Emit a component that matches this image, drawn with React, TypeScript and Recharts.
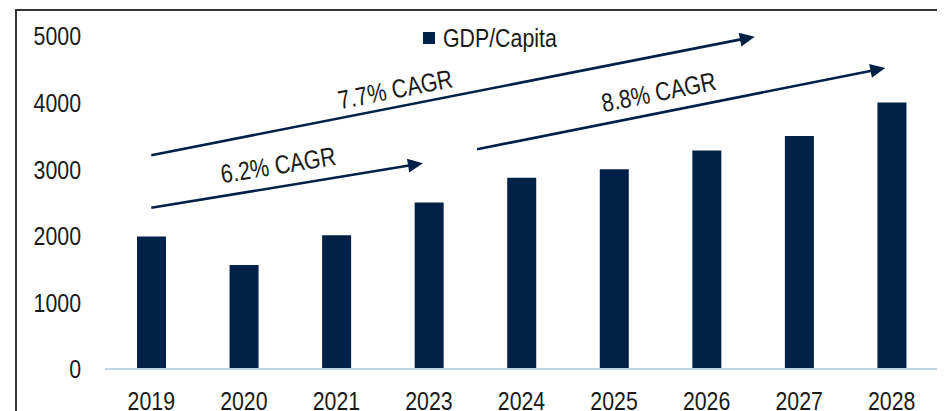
import React from 'react';
import { BarChart, Bar, XAxis, YAxis, Legend, ReferenceLine } from 'recharts';

const years = ['2019', '2020', '2021', '2023', '2024', '2025', '2026', '2027', '2028'];
const gdpPerCapita = [1990, 1560, 2010, 2500, 2870, 3000, 3280, 3500, 4000];
const yTicks = [0, 1000, 2000, 3000, 4000, 5000];

// CAGR arrows: [startIndex, startValue] -> [endIndex, endValue] on the category index scale
const arrowLabels = ['7.7% CAGR', '6.2% CAGR', '8.8% CAGR'];
const arrowStarts: [number, number][] = [[0, 3210], [0, 2420], [3.52, 3300]];
const arrowEnds: [number, number][] = [[6.52, 4990], [2.935, 3090], [7.93, 4520]];
const labelAt = [0.41, 0.48, 0.455];
const labelOffset = [18, 22, 21];

const data = years.map((y, i) => ({ year: y, value: gdpPerCapita[i], idx: i }));

const NAVY = '#002147';
const FONT = '"Liberation Sans", Arial, sans-serif';
const TEXT = '#1a1a1a';
const SX = 0.82;
const FS = 26;

const makeArrowShape = (label: string, t: number, off: number) => (props: any) => {
  const { x1, y1, x2, y2 } = props;
  const dx = x2 - x1;
  const dy = y2 - y1;
  const len = Math.sqrt(dx * dx + dy * dy);
  const ux = dx / len;
  const uy = dy / len;
  const headLen = 15;
  const headHalf = 7;
  const bx = x2 - ux * headLen;
  const by = y2 - uy * headLen;
  const nx = uy;
  const ny = -ux;
  const px = x1 + dx * t + nx * off;
  const py = y1 + dy * t + ny * off;
  const angle = (Math.atan2(dy, dx) * 180) / Math.PI;
  return (
    <g>
      <line x1={x1} y1={y1} x2={bx + ux} y2={by + uy} stroke={NAVY} strokeWidth={2.6} />
      <polygon
        points={`${x2},${y2} ${bx + nx * headHalf},${by + ny * headHalf} ${bx - nx * headHalf},${by - ny * headHalf}`}
        fill={NAVY}
      />
      <g transform={`translate(${px},${py}) rotate(${angle}) scale(${SX},1)`}>
        <text x={0} y={0} textAnchor="middle" dy="0.36em" fontFamily={FONT} fontSize={FS} fill={TEXT}>
          {label}
        </text>
      </g>
    </g>
  );
};

const YTick = (props: any) => {
  const { x, y, payload } = props;
  return (
    <g transform={`translate(${x},${y}) scale(${SX},1)`}>
      <text x={0} y={0} dy="0.36em" textAnchor="end" fontFamily={FONT} fontSize={FS} fill={TEXT}>
        {payload.value}
      </text>
    </g>
  );
};

const XTick = (props: any) => {
  const { x, y, payload } = props;
  return (
    <g transform={`translate(${x},${y}) scale(${SX},1)`}>
      <text x={0} y={0} dy="0.71em" textAnchor="middle" fontFamily={FONT} fontSize={FS} fill={TEXT}>
        {payload.value}
      </text>
    </g>
  );
};

const LegendContent = () => (
  <div style={{ display: 'flex', alignItems: 'center', fontFamily: FONT, fontSize: FS, lineHeight: '26px', color: TEXT, whiteSpace: 'nowrap' }}>
    <span style={{ display: 'inline-block', width: 12, height: 12, background: NAVY, marginRight: 8 }} />
    <span style={{ display: 'inline-block', transform: `scaleX(${SX})`, transformOrigin: 'left center' }}>GDP/Capita</span>
  </div>
);

export default function App() {
  return (
    <div style={{ position: 'relative', width: 937, height: 420 }}>
      <div
        style={{
          position: 'absolute',
          left: 7,
          top: 1,
          width: 940,
          height: 440,
          borderTop: '2px solid #333',
          borderLeft: '2px solid #333',
          boxSizing: 'border-box',
        }}
      />
      <BarChart width={937} height={420} data={data} margin={{ top: 28, right: 7, bottom: 0, left: 0 }}>
        <XAxis
          xAxisId="cat"
          dataKey="year"
          interval={0}
          axisLine={false}
          tickLine={false}
          tickSize={0}
          tickMargin={23}
          height={59}
          tick={<XTick />}
        />
        <XAxis
          xAxisId="num"
          dataKey="idx"
          type="number"
          domain={[0, 8]}
          padding={{ left: 833 / 18, right: 833 / 18 }}
          hide
          allowDataOverflow
        />
        <YAxis
          domain={[0, 5000]}
          ticks={yTicks}
          axisLine={false}
          tickLine={false}
          tickSize={0}
          tickMargin={24}
          width={97}
          tick={<YTick />}
        />
        <Legend
          layout="horizontal"
          verticalAlign="middle"
          align="center"
          wrapperStyle={{ top: 17, left: 415, width: 'auto' }}
          content={<LegendContent />}
        />
        <Bar xAxisId="cat" dataKey="value" name="GDP/Capita" fill={NAVY} barSize={29} isAnimationActive={false} />
        <ReferenceLine xAxisId="cat" y={0} stroke="#BDD7EE" strokeWidth={2} />
        {arrowLabels.map((lab, i) => (
          <ReferenceLine
            key={lab}
            xAxisId="num"
            ifOverflow="visible"
            segment={[
              { x: arrowStarts[i][0], y: arrowStarts[i][1] },
              { x: arrowEnds[i][0], y: arrowEnds[i][1] },
            ]}
            shape={makeArrowShape(lab, labelAt[i], labelOffset[i])}
          />
        ))}
      </BarChart>
    </div>
  );
}
